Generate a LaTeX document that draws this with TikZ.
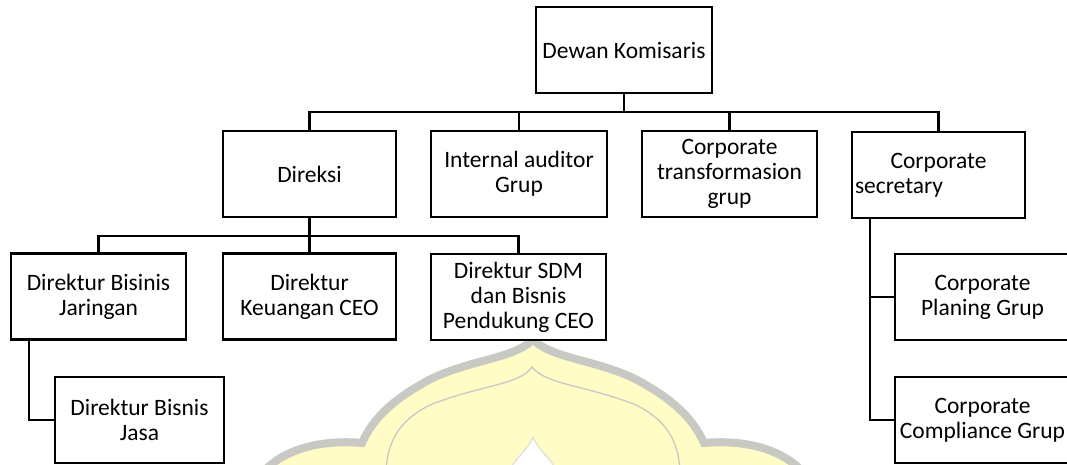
\documentclass[tikz,border=0pt]{standalone}
\usepackage{fontspec}
\setmainfont{Carlito}
\begin{document}
\begin{tikzpicture}[x=1pt,y=-1pt,
  box/.style={draw=black, line width=2.5pt, fill=white, align=center,
    inner sep=2pt, minimum height=86pt, font=\fontsize{23.5}{25}\selectfont},
  link/.style={draw=black, line width=2.5pt}]
\clip (0,0) rectangle (1067,464);

% faint crest in the background
\definecolor{crestfill}{HTML}{FFFCC6}
\definecolor{crestline}{HTML}{C9C9C4}
\fill[crestfill] (533,339) .. controls (515,360) and (460,360) .. (420,385)
  .. controls (385,405) and (370,425) .. (362,443)
  .. controls (330,440) and (290,445) .. (265,470) -- (801,470)
  .. controls (776,445) and (736,440) .. (704,443)
  .. controls (696,425) and (681,405) .. (646,385)
  .. controls (606,360) and (551,360) .. cycle;
\draw[crestline, line width=8pt] (265,470) .. controls (290,445) and (330,440) .. (362,443)
  .. controls (370,425) and (385,405) .. (420,385)
  .. controls (460,360) and (515,360) .. (533,339)
  .. controls (551,360) and (606,360) .. (646,385)
  .. controls (681,405) and (696,425) .. (704,443)
  .. controls (736,440) and (776,445) .. (801,470);
\draw[crestline, line width=1.3pt] (386,470) .. controls (388,440) and (400,420) .. (430,405)
  .. controls (480,385) and (520,385) .. (532,367)
  .. controls (546,385) and (586,385) .. (636,405)
  .. controls (666,420) and (678,440) .. (680,470);
\filldraw[fill=white, draw=crestline!70, line width=1pt] (533,437) .. controls (528,450) and (515,458) .. (510,470)
  -- (556,470) .. controls (551,458) and (538,450) .. cycle;

% boxes
\node[box, minimum width=176pt] (dk) at (624,50) {Dewan Komisaris};
\node[box, minimum width=173pt] (direksi) at (309.5,174) {Direksi};
\node[box, minimum width=176pt] (iag) at (519,174) {Internal auditor\\Grup};
\node[box, minimum width=175pt] (ctg) at (729.5,174) {Corporate\\transformasion\\grup};
\node[box, align=left, text width=167pt, inner sep=3pt] (cs) at (938.5,175)
  {\makebox[167pt][c]{Corporate}\\secretary};
\node[box, minimum width=175pt] (dbj) at (98.5,296.5) {Direktur Bisinis\\Jaringan};
\node[box, minimum width=173pt] (dkc) at (309.5,296.5) {Direktur\\Keuangan CEO};
\node[box, minimum width=175pt] (dsdm) at (518.5,297) {Direktur SDM\\dan Bisnis\\Pendukung CEO};
\node[box, minimum width=169pt] (dbjasa) at (139.5,420) {Direktur Bisnis\\Jasa};
\node[box, minimum width=175pt] (cpg) at (982.5,297) {Corporate\\Planing Grup};
\node[box, minimum width=175pt] (ccg) at (982.5,420) {Corporate\\Compliance Grup};

% connectors
\coordinate (busA) at (0,112);
\coordinate (busB) at (0,236);
\coordinate (railL) at (29,0);
\coordinate (railR) at (870,0);

\draw[link] (dk.south) -- (dk.south |- busA);
\draw[link] (direksi.north) -- (direksi.north |- busA) -- (cs.north |- busA) -- (cs.north);
\draw[link] (iag.north) -- (iag.north |- busA);
\draw[link] (ctg.north) -- (ctg.north |- busA);

\draw[link] (direksi.south) -- (direksi.south |- busB);
\draw[link] (dbj.north) -- (dbj.north |- busB) -- (dsdm.north |- busB) -- (dsdm.north);
\draw[link] (dkc.north) -- (dkc.north |- busB);

\draw[link] (dbj.south -| railL) |- (dbjasa.west);
\draw[link] (cs.south -| railR) |- (ccg.west);
\draw[link] (railR |- cpg.west) -- (cpg.west);
\end{tikzpicture}
\end{document}
